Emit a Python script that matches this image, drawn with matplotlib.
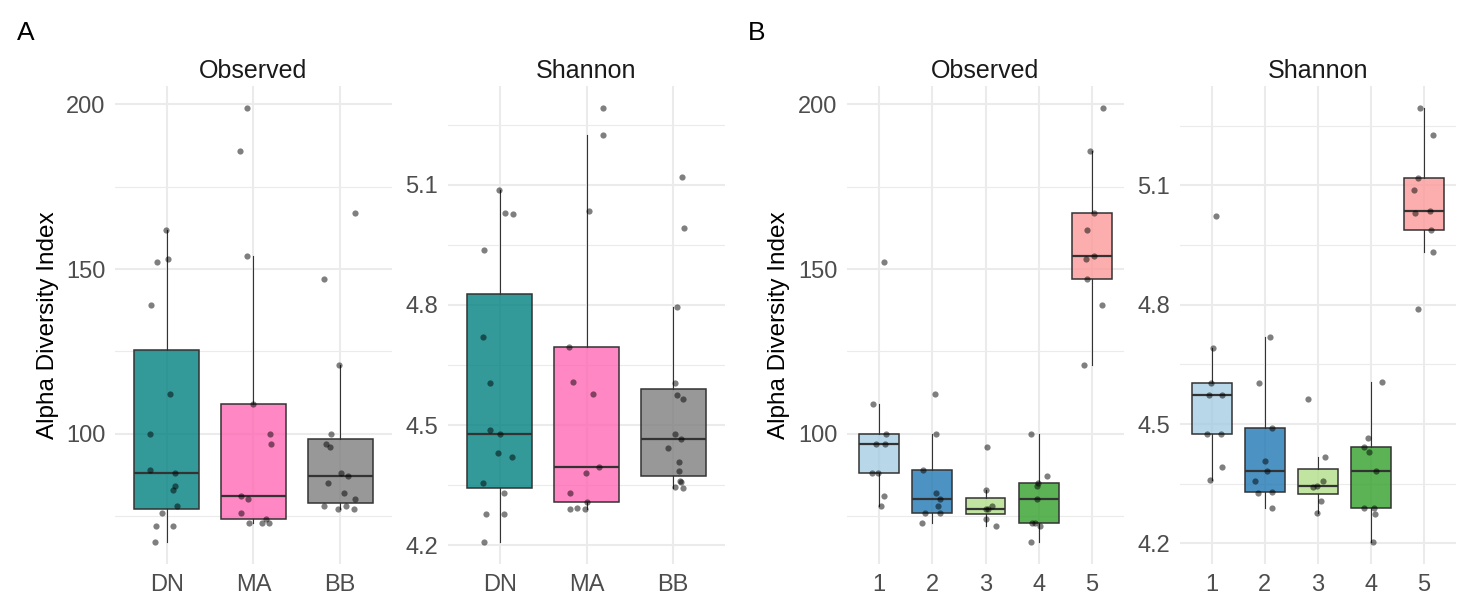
import numpy as np
import matplotlib
matplotlib.use("Agg")
import matplotlib.pyplot as plt

plt.rcParams['font.family'] = ['Liberation Sans', 'DejaVu Sans']

# panel A: by site
sites = ['DN', 'MA', 'BB']
site_colors = ['#008080', '#FF69B4', '#7F7F7F']

obs_site = {
    'DN': [162, 153, 152, 139, 112, 100, 89, 88, 84, 83, 78, 76, 72, 72, 67],
    'MA': [199, 186, 154, 109, 100, 97, 81, 80, 76, 74, 73, 73, 73],
    'BB': [167, 147, 121, 100, 97, 96, 88, 87, 85, 82, 80, 78, 78, 77, 77],
}
obs_site_jit = {
    'DN': [-0.01, 0.01, -0.11, -0.18, 0.04, -0.19, -0.19, 0.09, 0.09, 0.07, 0.12, -0.06, -0.13, 0.07, -0.14],
    'MA': [-0.07, -0.16, -0.07, -0.01, 0.19, 0.20, -0.14, -0.06, -0.14, 0.14, -0.05, 0.10, 0.18],
    'BB': [0.17, -0.18, -0.01, -0.10, -0.16, -0.12, 0.01, 0.09, -0.14, 0.05, 0.17, -0.19, 0.07, -0.02, 0.16],
}
sha_site = {
    'DN': [5.087, 5.030, 5.027, 4.937, 4.719, 4.606, 4.487, 4.477, 4.429, 4.420, 4.356, 4.331, 4.277, 4.277, 4.207],
    'MA': [5.293, 5.225, 5.036, 4.694, 4.607, 4.578, 4.395, 4.381, 4.329, 4.307, 4.293, 4.289, 4.289],
    'BB': [5.120, 4.993, 4.796, 4.604, 4.576, 4.564, 4.478, 4.466, 4.442, 4.407, 4.385, 4.359, 4.357, 4.346, 4.343],
}
sha_site_jit = {
    'DN': [-0.01, 0.06, 0.15, -0.18, -0.19, -0.12, -0.12, 0.00, -0.02, 0.14, -0.19, 0.05, -0.16, 0.05, -0.18],
    'MA': [0.19, 0.19, 0.03, -0.20, -0.16, 0.07, 0.14, -0.01, -0.19, 0.01, -0.11, -0.19, -0.02],
    'BB': [0.10, 0.13, 0.04, 0.02, 0.04, 0.11, 0.02, 0.09, -0.06, 0.07, 0.07, 0.08, 0.09, 0.02, 0.12],
}

# panel B: by cluster
clusters = ['1', '2', '3', '4', '5']
cluster_colors = ['#A6CEE3', '#1F78B4', '#B2DF8A', '#33A02C', '#FB9A99']

obs_cl = {
    '1': [152, 109, 100, 97, 97, 88, 88, 81, 78],
    '2': [112, 100, 89, 82, 80, 78, 76, 76, 73],
    '3': [96, 83, 78, 77, 77, 74, 72],
    '4': [100, 87, 85, 84, 80, 73, 73, 72, 67],
    '5': [199, 186, 167, 162, 154, 153, 147, 139, 121],
}
obs_cl_jit = {
    '1': [0.09, -0.11, 0.13, -0.06, 0.12, -0.13, -0.01, 0.09, 0.03],
    '2': [0.06, 0.07, -0.18, 0.08, 0.14, 0.11, -0.14, 0.14, -0.19],
    '3': [0.03, 0.01, 0.13, 0.01, 0.04, 0.01, 0.19],
    '4': [-0.14, 0.16, -0.01, -0.03, -0.03, -0.13, -0.08, 0.02, -0.14],
    '5': [0.20, -0.04, 0.04, -0.10, 0.04, -0.11, -0.09, 0.19, -0.16],
}
sha_cl = {
    '1': [5.023, 4.691, 4.604, 4.574, 4.574, 4.476, 4.476, 4.393, 4.359],
    '2': [4.720, 4.604, 4.490, 4.408, 4.381, 4.358, 4.330, 4.328, 4.289],
    '3': [4.563, 4.417, 4.356, 4.344, 4.343, 4.306, 4.277],
    '4': [4.607, 4.464, 4.443, 4.430, 4.383, 4.289, 4.289, 4.274, 4.203],
    '5': [5.295, 5.227, 5.118, 5.089, 5.036, 5.030, 4.988, 4.933, 4.790],
}
sha_cl_jit = {
    '1': [0.07, 0.03, -0.01, -0.06, 0.20, -0.10, 0.18, 0.19, -0.03],
    '2': [0.10, -0.12, 0.13, 0.01, 0.04, -0.18, 0.14, -0.13, 0.14],
    '3': [-0.19, 0.13, 0.09, -0.02, -0.10, 0.06, -0.01],
    '4': [0.20, -0.05, -0.13, -0.03, 0.09, -0.13, 0.06, 0.07, 0.04],
    '5': [-0.08, 0.16, -0.11, -0.19, 0.11, -0.18, 0.12, 0.17, -0.11],
}

obs_major = [100, 150, 200]
obs_minor = [75, 125, 175]
sha_major = [4.2, 4.5, 4.8, 5.1]
sha_minor = [4.35, 4.65, 4.95, 5.25]

W, H = 1473, 614
fig = plt.figure(figsize=(W / 100, H / 100), dpi=100)

grid_col = '#EBEBEB'
edge_col = '#333333'


def panel(left, width, groups, colors, values, jitter, title, major, minor, yfmt):
    ax = fig.add_axes([left / W, 1 - 564 / H, width / W, 478 / H])
    n = len(groups)
    data = [values[g] for g in groups]
    pos = np.arange(1, n + 1)
    bp = ax.boxplot(data, positions=pos, widths=0.75, patch_artist=True,
                    showfliers=False, whis=1.5, showcaps=False,
                    boxprops=dict(edgecolor=edge_col, linewidth=1.1),
                    whiskerprops=dict(color=edge_col, linewidth=0.8),
                    medianprops=dict(color=edge_col, linewidth=1.6),
                    zorder=2)
    for patch, c in zip(bp['boxes'], colors):
        patch.set_facecolor(matplotlib.colors.to_rgba(c, 0.8))
    for i, g in enumerate(groups):
        xs = pos[i] + np.array(jitter[g])
        ax.scatter(xs, values[g], s=20, color='black', alpha=0.5,
                   linewidths=0, zorder=3)
    allv = np.concatenate(data)
    span = allv.max() - allv.min()
    ax.set_ylim(allv.min() - 0.05 * span, allv.max() + 0.05 * span)
    ax.set_xlim(0.4, n + 0.6)
    ax.set_xticks(pos)
    ax.set_xticklabels(groups)
    ax.set_yticks(major)
    ax.set_yticklabels([yfmt.format(v) for v in major])
    ax.set_yticks(minor, minor=True)
    ax.set_xticks([], minor=True)
    ax.grid(True, which='major', color=grid_col, linewidth=1.5, zorder=0)
    ax.grid(True, which='minor', axis='y', color=grid_col, linewidth=0.8, zorder=0)
    ax.set_axisbelow(True)
    for s in ax.spines.values():
        s.set_visible(False)
    ax.tick_params(which='both', length=0, labelsize=17, labelcolor='#4D4D4D')
    ax.tick_params(axis='x', pad=7)
    ax.tick_params(axis='y', pad=7)
    ax.set_title(title, fontsize=18, pad=6, color='#1A1A1A')
    return ax


panel(115, 277, sites, site_colors, obs_site, obs_site_jit, 'Observed', obs_major, obs_minor, '{:.0f}')
panel(448, 277, sites, site_colors, sha_site, sha_site_jit, 'Shannon', sha_major, sha_minor, '{:.1f}')
panel(847, 277, clusters, cluster_colors, obs_cl, obs_cl_jit, 'Observed', obs_major, obs_minor, '{:.0f}')
panel(1180, 276, clusters, cluster_colors, sha_cl, sha_cl_jit, 'Shannon', sha_major, sha_minor, '{:.1f}')

ymid = 1 - 325 / H
fig.text(48 / W, ymid, 'Alpha Diversity Index', rotation=90, ha='center', va='center', fontsize=17.5)
fig.text(779 / W, ymid, 'Alpha Diversity Index', rotation=90, ha='center', va='center', fontsize=17.5)
fig.text(17 / W, 1 - 40 / H, 'A', fontsize=19, va='baseline', ha='left')
fig.text(748 / W, 1 - 40 / H, 'B', fontsize=19, va='baseline', ha='left')

fig.savefig('out.png', dpi=100, facecolor='white')
